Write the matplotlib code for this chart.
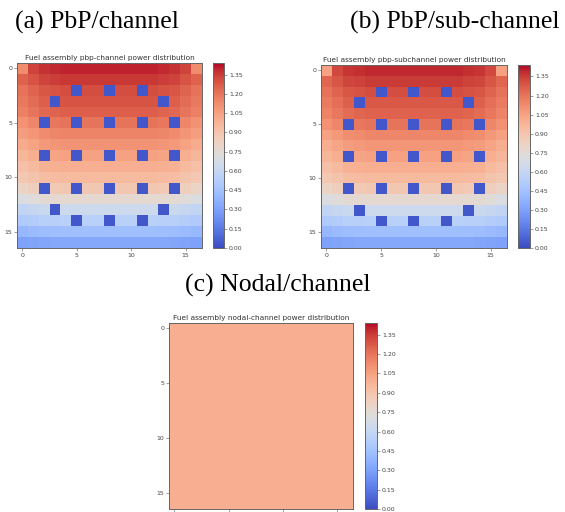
import numpy as np
import matplotlib
matplotlib.use('Agg')
import matplotlib.pyplot as plt

# row-averaged relative power (center columns)
rowPowerA = [1.40, 1.36, 1.31, 1.29, 1.26, 1.20, 1.15, 1.10, 1.05,
             1.00, 0.95, 0.88, 0.77, 0.64, 0.55, 0.44, 0.33]
rowPowerB = [1.39, 1.35, 1.31, 1.28, 1.25, 1.20, 1.14, 1.09, 1.05,
             1.00, 0.95, 0.88, 0.77, 0.64, 0.55, 0.44, 0.33]
# radial shape across the columns
colShape = [0.92, 0.95, 0.98, 0.99, 1.0, 1.0, 1.0, 1.0, 1.0,
            1.0, 1.0, 1.0, 1.0, 0.99, 0.98, 0.95, 0.92]
cornerPowerA = 1.12
cornerPowerB = 1.05

# guide tube / instrument tube locations (row, col)
tubeRows = [2, 2, 2, 3, 3, 5, 5, 5, 5, 5, 8, 8, 8, 8, 8,
            11, 11, 11, 11, 11, 13, 13, 14, 14, 14]
tubeCols = [5, 8, 11, 3, 13, 2, 5, 8, 11, 14, 2, 5, 8, 11, 14,
            2, 5, 8, 11, 14, 3, 13, 5, 8, 11]
tubePower = 0.04

nodalPower = 1.0

panelLabels = ['(a) PbP/channel', '(b) PbP/sub-channel', '(c) Nodal/channel']
titles = ['Fuel assembly pbp-channel power distribution',
          'Fuel assembly pbp-subchannel power distribution',
          'Fuel assembly nodal-channel power distribution']
cbTicks = [0.00, 0.15, 0.30, 0.45, 0.60, 0.75, 0.90, 1.05, 1.20, 1.35]
axTicks = [0, 5, 10, 15]


def buildMap(rows, corner):
    m = np.outer(rows, colShape)
    m[0, 0] = corner
    m[0, 16] = corner
    m[tubeRows, tubeCols] = tubePower
    return m


maps = [buildMap(rowPowerA, cornerPowerA),
        buildMap(rowPowerB, cornerPowerB),
        np.full((17, 17), nodalPower)]

W, H = 565.0, 512.0
# pixel boxes: axes (left, top, right, bottom), colorbar (left, right)
axBoxes = [(17, 63, 202, 248), (321, 65, 507, 248), (169, 323, 353, 509)]
cbBoxes = [(213, 224), (518, 530), (365, 377)]
labelPos = [(15, 22), (350, 22), (185, 285)]

fig = plt.figure(figsize=(W / 100, H / 100), dpi=100)

for i in range(3):
    l, t, r, b = axBoxes[i]
    ax = fig.add_axes([l / W, 1 - b / H, (r - l) / W, (b - t) / H])
    im = ax.imshow(maps[i], cmap='coolwarm', vmin=0, vmax=1.44,
                   interpolation='nearest', aspect='auto')
    ax.set_title(titles[i], fontsize=5.3, pad=2, color='#333333')
    ax.set_xticks(axTicks)
    ax.set_yticks(axTicks)
    ax.tick_params(labelsize=4.5, length=2, width=0.4, pad=1.5,
                   colors='#555555', labelcolor='#444444')
    for s in ax.spines.values():
        s.set_color('#666666')
        s.set_linewidth(0.7)

    cl, cr = cbBoxes[i]
    cax = fig.add_axes([cl / W, 1 - b / H, (cr - cl) / W, (b - t) / H])
    cb = fig.colorbar(im, cax=cax, ticks=cbTicks)
    cb.ax.set_yticklabels(['%.2f' % v for v in cbTicks])
    cb.ax.tick_params(labelsize=4.5, length=2, width=0.4, pad=1.5,
                      colors='#555555', labelcolor='#444444')
    cb.outline.set_edgecolor('#666666')
    cb.outline.set_linewidth(0.7)

    lx, ly = labelPos[i]
    fig.text(lx / W, 1 - ly / H, panelLabels[i], fontsize=18.5,
             family='Liberation Serif', va='center', ha='left')

plt.savefig('out.png', dpi=100)
